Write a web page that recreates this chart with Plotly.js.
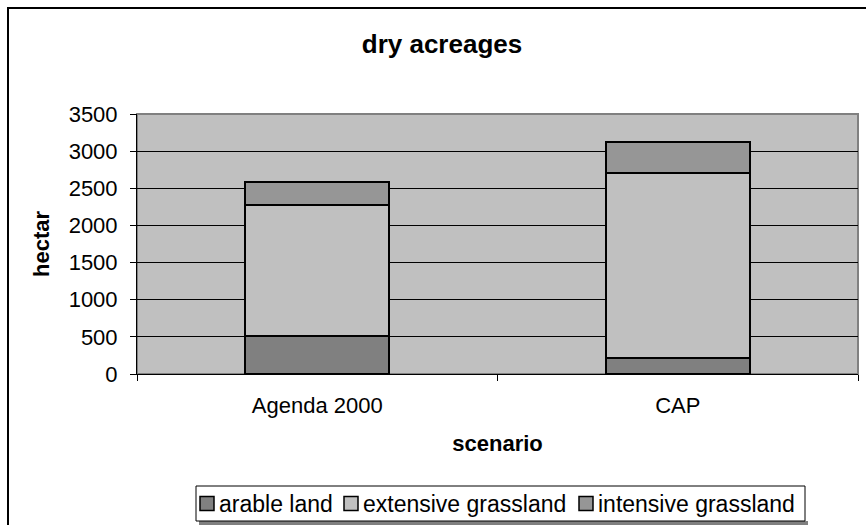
<!DOCTYPE html>
<html>
<head>
<meta charset="utf-8">
<script src="https://cdn.plot.ly/plotly-3.0.1.min.js"></script>
<style>html,body{margin:0;padding:0;background:#fff;}#chart{width:866px;height:525px;}</style>
</head>
<body>
<div id="chart"></div>
<script>
var categories = ["Agenda 2000", "CAP"];
var seriesNames = ["arable land", "extensive grassland", "intensive grassland"];
var arableLand = [510, 220];
var extensiveGrassland = [1760, 2480];
var intensiveGrassland = [310, 420];
var seriesColors = ["#808080", "#c0c0c0", "#969696"];
var yTicks = [0, 500, 1000, 1500, 2000, 2500, 3000, 3500];

var F = "Liberation Sans, Arial, sans-serif";
// plot area in pixels
var L = 137, R = 858, T = 114, B = 374;
function px(x) { return (x - L) / (R - L); }
function py(y) { return (B - y) / (B - T); }

var values = [arableLand, extensiveGrassland, intensiveGrassland];
var data = values.map(function (v, i) {
  return {
    type: "bar", name: seriesNames[i], x: categories, y: v,
    marker: {color: seriesColors[i], line: {color: "#000", width: 2}},
    hoverinfo: "skip", showlegend: false
  };
});

// manual legend (pixel layout)
var legendSquares = [200, 344, 579];
var legendTexts = [218, 362, 597];
var shapes = [
  {type: "rect", xref: "paper", yref: "paper", x0: 0, x1: 1, y0: 0, y1: 1,
   line: {color: "#808080", width: 2}, layer: "below"},
  {type: "rect", xref: "paper", yref: "paper", x0: px(8), x1: 1.3, y0: -1, y1: py(8),
   line: {color: "#000", width: 2}, fillcolor: "rgba(0,0,0,0)", layer: "above"},
  {type: "rect", xref: "paper", yref: "paper", x0: px(199), x1: px(808), y0: py(526), y1: py(521),
   line: {width: 0}, fillcolor: "#808080", layer: "above"},
  {type: "rect", xref: "paper", yref: "paper", x0: px(196), x1: px(805), y0: py(521), y1: py(486),
   line: {color: "#000", width: 1}, fillcolor: "#fff", layer: "above"}
];
var annotations = [];
seriesNames.forEach(function (n, i) {
  shapes.push({type: "rect", xref: "paper", yref: "paper",
    x0: px(legendSquares[i]), x1: px(legendSquares[i] + 14), y0: py(510.5), y1: py(496.5),
    line: {color: "#000", width: 1.5}, fillcolor: seriesColors[i], layer: "above"});
  annotations.push({xref: "paper", yref: "paper", x: px(legendTexts[i]), y: py(503.5),
    xanchor: "left", yanchor: "middle", showarrow: false, text: n,
    font: {family: F, size: 23, color: "#000"}, borderpad: 0});
});

var layout = {
  width: 866, height: 525,
  margin: {l: L, r: 866 - R, t: T, b: 525 - B, pad: 0, autoexpand: false},
  paper_bgcolor: "#fff", plot_bgcolor: "#c0c0c0",
  barmode: "stack", bargap: 0.6,
  font: {family: F, size: 22, color: "#000"},
  title: {text: "<b>dry acreages</b>", font: {family: F, size: 26, color: "#000"},
          x: 442 / 866, xanchor: "center", y: 1 - 44 / 525, yanchor: "middle"},
  xaxis: {
    type: "category", showline: true, linecolor: "#000", linewidth: 1,
    ticks: "outside", tickson: "boundaries", ticklen: 6, tickcolor: "#000",
    showgrid: false, zeroline: false, ticklabelstandoff: 12, automargin: false,
    tickfont: {family: F, size: 22},
    title: {text: "<b>scenario</b>", font: {family: F, size: 22}, standoff: 18}
  },
  yaxis: {
    range: [0, 3500], tickvals: yTicks, showline: true, linecolor: "#000", linewidth: 1,
    ticks: "outside", ticklen: 6, tickcolor: "#000", ticklabelstandoff: 8, automargin: false,
    showgrid: true, gridcolor: "#000", gridwidth: 1, zeroline: false,
    tickfont: {family: F, size: 22},
    title: {text: "<b>hectar</b>", font: {family: F, size: 22}, standoff: 12}
  },
  shapes: shapes,
  annotations: annotations,
  showlegend: false
};
Plotly.newPlot("chart", data, layout, {displayModeBar: false, staticPlot: true});
</script>
</body>
</html>
